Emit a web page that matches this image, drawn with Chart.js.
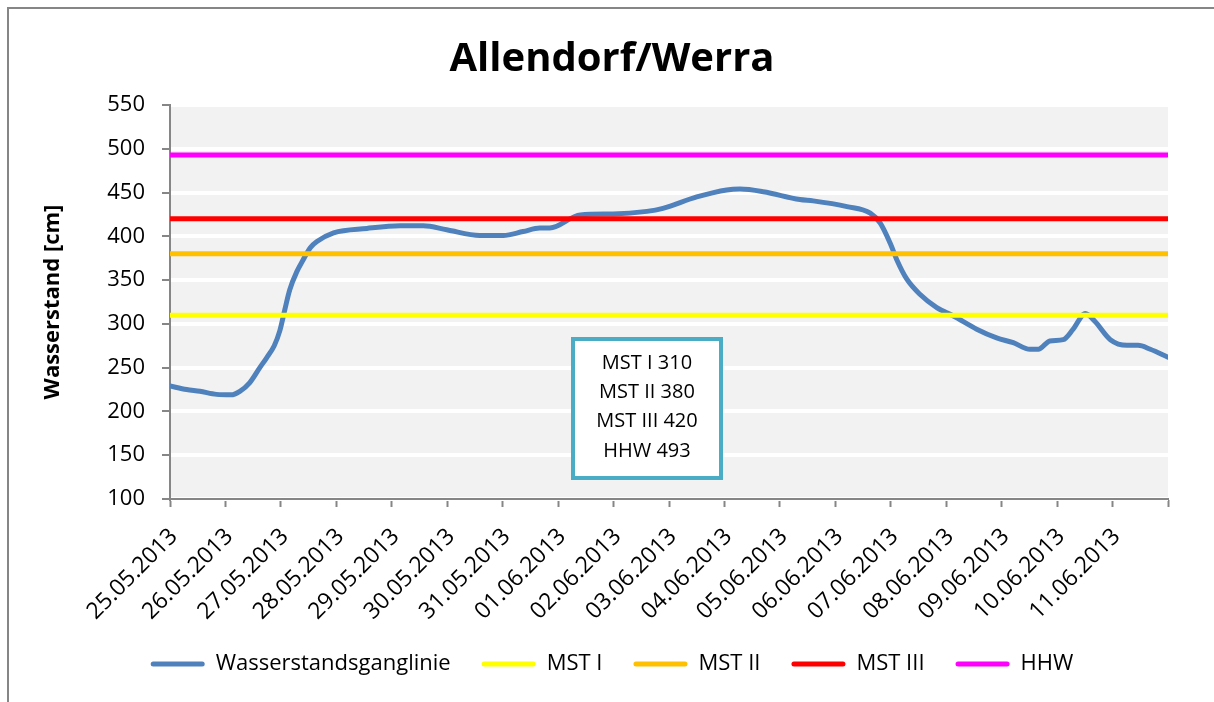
<!DOCTYPE html>
<html lang="de">
<head>
<meta charset="utf-8">
<title>Allendorf/Werra</title>
<script src="https://cdn.jsdelivr.net/npm/chart.js@4.4.1/dist/chart.umd.min.js"></script>
<style>
  html, body { margin: 0; padding: 0; background: #fff; }
  #wrap { width: 1214px; height: 702px; }
</style>
</head>
<body>
<div id="wrap"><canvas id="pegelChart" width="1214" height="702"></canvas></div>
<script>
// Pegel Allendorf/Werra, Hochwasser Mai/Juni 2013

// Achsenbeschriftung (Tage ab 25.05.2013)
const datumLabels = [
  '25.05.2013', '26.05.2013', '27.05.2013', '28.05.2013', '29.05.2013', '30.05.2013',
  '31.05.2013', '01.06.2013', '02.06.2013', '03.06.2013', '04.06.2013', '05.06.2013',
  '06.06.2013', '07.06.2013', '08.06.2013', '09.06.2013', '10.06.2013', '11.06.2013'
];
const yTicks = [100, 550, 50]; // min, max, Schritt

// Ganglinie: Zeitpunkt in Tagen, Wasserstand in cm
const tage = [
  0.00, 0.30, 0.54, 0.84, 1.10, 1.26, 1.44, 1.62, 1.74, 1.88,
  1.98, 2.07, 2.16, 2.29, 2.40, 2.53, 2.65, 2.95, 3.55, 4.15,
  4.57, 4.99, 5.59, 6.01, 6.37, 6.67, 6.85, 7.40, 7.99, 8.60,
  8.89, 9.50, 10.04, 10.28, 10.70, 11.36, 11.60, 12.21, 12.63, 12.81,
  12.99, 13.11, 13.29, 13.53, 13.83, 14.13, 14.55, 14.91, 15.21, 15.51,
  15.66, 15.87, 16.11, 16.29, 16.51, 16.68, 16.96, 17.26, 17.46, 17.68,
  18.00
];
const wasserstand = [
  229, 225, 223, 219.5, 219, 223, 233, 250, 261, 275,
  292, 316, 339, 360, 373, 387, 394, 404, 409, 412,
  412, 407.5, 401, 401, 405.5, 409.5, 409.5, 424.5, 425.5, 428.5,
  432, 445, 453, 454, 451, 442, 440.5, 434, 426.5, 415,
  392, 373, 351, 333.5, 318.5, 309, 294, 284, 278.5, 271,
  271, 280.5, 282, 294, 312, 303, 282, 275.5, 275.5, 271,
  262
];

// Meldestufen
const stufenNamen = ['MST I', 'MST II', 'MST III', 'HHW'];
const stufenWerte = [310, 380, 420, 493];
const stufenFarben = ['#ffff00', '#ffc000', '#ff0000', '#ff00ff'];

(function() {
  'use strict';

  const FONT = "'Open Sans', 'DejaVu Sans', sans-serif";
  const AXIS_GRAY = '#868686';

  // Hintergrund der Zeichenfläche
  const plotBackground = {
    id: 'plotBackground',
    beforeDraw(chart) {
      const { ctx, chartArea } = chart;
      ctx.save();
      ctx.fillStyle = '#f2f2f2';
      ctx.fillRect(chartArea.left, chartArea.top, chartArea.right - chartArea.left, chartArea.bottom - chartArea.top);
      ctx.restore();
    }
  };

  // Textfeld mit den Meldestufen und Rahmen des Diagramms
  const infoBox = {
    id: 'infoBox',
    afterDraw(chart) {
      const ctx = chart.ctx;
      ctx.save();
      // Rahmen oben und links
      ctx.strokeStyle = AXIS_GRAY;
      ctx.lineWidth = 2;
      ctx.beginPath();
      ctx.moveTo(8, chart.height);
      ctx.lineTo(8, 8);
      ctx.lineTo(chart.width, 8);
      ctx.stroke();

      // Kasten
      ctx.fillStyle = '#fff';
      ctx.strokeStyle = '#4bacc6';
      ctx.lineWidth = 4;
      ctx.fillRect(573, 339, 148, 139);
      ctx.strokeRect(573, 339, 148, 139);

      ctx.fillStyle = '#000';
      ctx.font = '20px ' + FONT;
      ctx.textAlign = 'center';
      ctx.textBaseline = 'middle';
      const lines = stufenNamen.map((n, i) => n + ' ' + stufenWerte[i]);
      lines.forEach((t, i) => ctx.fillText(t, 647, 363 + i * 29.3));
      ctx.restore();
    }
  };

  function buildDatasets() {
    const sets = [{
      label: 'Wasserstandsganglinie',
      data: tage.map((t, i) => ({ x: t, y: wasserstand[i] })),
      borderColor: '#4f81bd',
      backgroundColor: '#4f81bd',
      borderWidth: 5,
      borderCapStyle: 'round',
      borderJoinStyle: 'round',
      cubicInterpolationMode: 'monotone',
      pointRadius: 0,
      fill: false,
      order: 5
    }];
    stufenWerte.forEach((wert, i) => {
      sets.push({
        label: stufenNamen[i],
        data: [{ x: 0, y: wert }, { x: datumLabels.length, y: wert }],
        borderColor: stufenFarben[i],
        backgroundColor: stufenFarben[i],
        borderWidth: 5,
        borderCapStyle: 'round',
        pointRadius: 0,
        fill: false,
        order: 1
      });
    });
    return sets;
  }

  function init() {
    const ctx = document.getElementById('pegelChart');

    new Chart(ctx, {
      type: 'line',
      data: { datasets: buildDatasets() },
      plugins: [plotBackground, infoBox],
      options: {
        responsive: false,
        animation: false,
        devicePixelRatio: 1,
        layout: { padding: { left: 10, right: 0, top: 0, bottom: 17 } },
        plugins: {
          title: {
            display: true,
            text: 'Allendorf/Werra',
            color: '#000',
            font: { family: FONT, size: 40, weight: 'bold' },
            padding: { top: 36, bottom: 21 }
          },
          legend: {
            position: 'bottom',
            labels: {
              color: '#000',
              font: { family: FONT, size: 22 },
              boxWidth: 54,
              boxHeight: 5,
              padding: 31,
              useBorderRadius: true,
              borderRadius: 2.5,
              sort: (a, b) => a.datasetIndex - b.datasetIndex,
              generateLabels(chart) {
                const items = Chart.defaults.plugins.legend.labels.generateLabels(chart);
                return items.map(item => Object.assign(item, { lineWidth: 0 }));
              }
            }
          },
          tooltip: { enabled: false }
        },
        scales: {
          x: {
            type: 'linear',
            min: 0,
            max: datumLabels.length,
            afterFit(scale) { scale.height = 123; },
            border: { color: AXIS_GRAY, width: 2 },
            grid: { drawOnChartArea: false, tickColor: AXIS_GRAY, tickWidth: 2, tickLength: 8 },
            ticks: {
              stepSize: 1,
              autoSkip: false,
              minRotation: 45,
              maxRotation: 45,
              padding: 16,
              labelOffset: 4,
              color: '#000',
              font: { family: FONT, size: 23 },
              callback: (v) => datumLabels[v] || ''
            }
          },
          y: {
            min: yTicks[0],
            max: yTicks[1],
            afterFit(scale) { scale.width = 160; },
            border: { color: AXIS_GRAY, width: 2 },
            grid: { color: '#ffffff', lineWidth: 4, tickColor: AXIS_GRAY, tickWidth: 2, tickLength: 8 },
            ticks: {
              stepSize: yTicks[2],
              padding: 17,
              color: '#000',
              font: { family: FONT, size: 22 }
            },
            title: {
              display: true,
              text: 'Wasserstand [cm]',
              color: '#000',
              font: { family: FONT, size: 22, weight: 'bold' },
              padding: { top: 30, bottom: 0 }
            }
          },
          // leerer Rand rechts neben der Zeichenfläche
          rand: {
            position: 'right',
            afterFit(scale) { scale.width = 46; },
            grid: { display: false },
            border: { display: false },
            ticks: { display: false }
          }
        }
      }
    });
  }

  if (document.readyState === 'loading') {
    document.addEventListener('DOMContentLoaded', init);
  } else {
    init();
  }
})();
</script>
</body>
</html>
